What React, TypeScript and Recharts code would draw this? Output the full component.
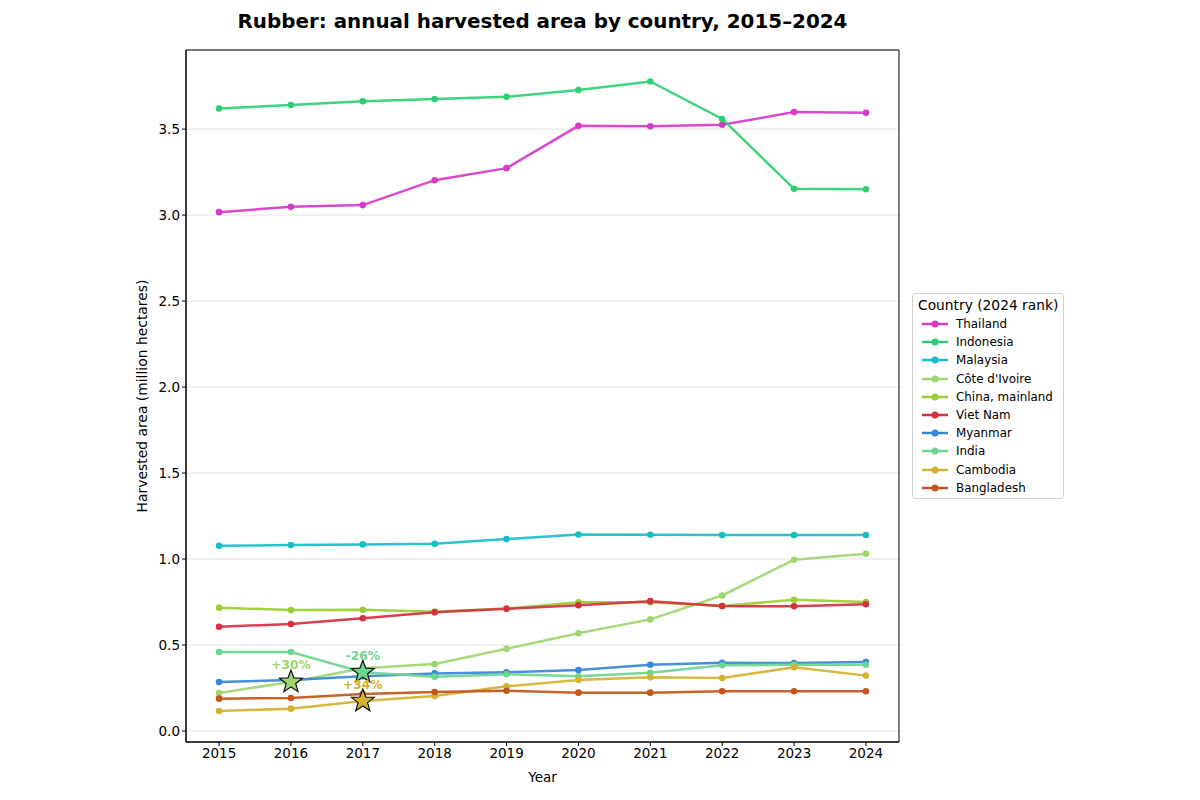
import React from 'react'
import {
  LineChart, Line, XAxis, YAxis, CartesianGrid, ReferenceDot, ReferenceArea,
} from 'recharts'

const years = [2015, 2016, 2017, 2018, 2019, 2020, 2021, 2022, 2023, 2024]

const thailand = [3.017, 3.048, 3.058, 3.203, 3.273, 3.519, 3.517, 3.525, 3.599, 3.595]
const indonesia = [3.620, 3.640, 3.662, 3.675, 3.688, 3.727, 3.777, 3.559, 3.153, 3.150]
const malaysia = [1.077, 1.081, 1.085, 1.089, 1.116, 1.143, 1.141, 1.140, 1.140, 1.140]
const coteDIvoire = [0.221, 0.285, 0.365, 0.390, 0.478, 0.568, 0.649, 0.788, 0.996, 1.030]
const chinaMainland = [0.717, 0.703, 0.705, 0.694, 0.712, 0.748, 0.748, 0.727, 0.763, 0.750]
const vietNam = [0.606, 0.622, 0.656, 0.690, 0.711, 0.731, 0.755, 0.727, 0.725, 0.737]
const myanmar = [0.285, 0.297, 0.318, 0.335, 0.341, 0.355, 0.385, 0.397, 0.395, 0.401]
const india = [0.459, 0.459, 0.342, 0.316, 0.330, 0.318, 0.339, 0.382, 0.385, 0.385]
const cambodia = [0.116, 0.130, 0.174, 0.203, 0.260, 0.297, 0.312, 0.308, 0.370, 0.322]
const bangladesh = [0.188, 0.192, 0.215, 0.227, 0.234, 0.223, 0.223, 0.231, 0.231, 0.231]

// legend order = 2024 rank
const series = [
  { name: 'Thailand', values: thailand, color: '#d63bc8' },
  { name: 'Indonesia', values: indonesia, color: '#2ecf72' },
  { name: 'Malaysia', values: malaysia, color: '#17bec6' },
  { name: "Côte d'Ivoire", values: coteDIvoire, color: '#9dd66e' },
  { name: 'China, mainland', values: chinaMainland, color: '#9acd32' },
  { name: 'Viet Nam', values: vietNam, color: '#d63040' },
  { name: 'Myanmar', values: myanmar, color: '#3886d8' },
  { name: 'India', values: india, color: '#6ad68e' },
  { name: 'Cambodia', values: cambodia, color: '#d4b22f' },
  { name: 'Bangladesh', values: bangladesh, color: '#c4541a' },
]

const yTicks = [0, 0.5, 1.0, 1.5, 2.0, 2.5, 3.0, 3.5]

// big year-over-year jumps marked with a star
const callouts = [
  { year: 2016, country: "Côte d'Ivoire", label: '+30%' },
  { year: 2017, country: 'India', label: '-26%' },
  { year: 2017, country: 'Cambodia', label: '+34%' },
]

const FONT = '"DejaVu Sans", sans-serif'
const TICK_FS = 13.5

const chartData = years.map((year, i) => {
  const row: Record<string, number> = { year }
  for (const s of series) row[s.name] = s.values[i]
  return row
})

function starPoints(cx: number, cy: number, outer: number, inner: number) {
  const pts: string[] = []
  for (let k = 0; k < 10; k++) {
    const r = k % 2 === 0 ? outer : inner
    const a = -Math.PI / 2 + (k * Math.PI) / 5
    pts.push(`${cx + r * Math.cos(a)},${cy + r * Math.sin(a)}`)
  }
  return pts.join(' ')
}

function StarMark(props: any) {
  const { cx, cy, fill } = props
  if (cx == null || cy == null) return null
  return <polygon points={starPoints(cx, cy, 12, 5)} fill={fill} stroke="#111" strokeWidth={1.2} />
}

function StarLabel(props: any) {
  const { cx, cy, fill, label } = props
  if (cx == null || cy == null) return null
  return (
    <text x={cx} y={cy - 12.5} textAnchor="middle" fontFamily={FONT} fontSize={12.2}
      fontWeight="bold" fill={fill}>{label}</text>
  )
}

function LegendBox() {
  return (
    <div style={{
      position: 'absolute', left: 912, top: 293,
      border: '1px solid #d0d0d0', borderRadius: 3, background: '#fff',
      fontFamily: FONT, padding: '2px 5px 1px 8px', width: 137,
    }}>
      <div style={{ fontSize: 13.8, lineHeight: '18px', marginBottom: 1, whiteSpace: 'nowrap', marginLeft: -3 }}>
        Country (2024 rank)
      </div>
      {series.map(s => (
        <div key={s.name} style={{ display: 'flex', alignItems: 'center', height: 18.2, fontSize: 11.9 }}>
          <svg width={28} height={10} style={{ marginRight: 7 }}>
            <line x1={1} y1={5} x2={27} y2={5} stroke={s.color} strokeWidth={2.5} />
            <circle cx={14} cy={5} r={3.5} fill={s.color} />
          </svg>
          <span style={{ whiteSpace: 'nowrap' }}>{s.name}</span>
        </div>
      ))}
    </div>
  )
}

export default function App() {
  return (
    <div style={{ position: 'absolute', left: 0, top: 0, width: 1200, height: 800, background: '#fff' }}>
      <div style={{
        position: 'absolute', left: 186, width: 713, top: 10, textAlign: 'center',
        fontFamily: FONT, fontSize: 19.9, fontWeight: 'bold', whiteSpace: 'nowrap',
      }}>
        Rubber: annual harvested area by country, 2015–2024
      </div>
      <LineChart width={1200} height={800} data={chartData}
        margin={{ top: 50, right: 301, left: 0, bottom: 0 }}>
        <CartesianGrid vertical={false} stroke="#e3e3e3" />
        <XAxis
          dataKey="year" type="number" domain={[2014.54, 2024.46]} ticks={years}
          allowDataOverflow height={58} tickSize={4}
          stroke="#000" tick={{ fontSize: TICK_FS, fill: '#000', fontFamily: FONT }}
          label={{ value: 'Year', position: 'insideBottom', offset: 18, fontSize: TICK_FS, fill: '#000', fontFamily: FONT }}
        />
        <YAxis
          type="number" domain={[-0.064, 3.96]} ticks={yTicks} allowDataOverflow
          width={186} tickSize={4} stroke="#000"
          tickFormatter={(v: number) => v.toFixed(1)}
          tick={{ fontSize: TICK_FS, fill: '#000', fontFamily: FONT }}
          label={(p: any) => {
            const vb = p.viewBox
            const x = 147
            const y = vb.y + vb.height / 2
            return (
              <text x={x} y={y} transform={`rotate(-90 ${x} ${y})`} textAnchor="middle"
                fontSize={13.9} fill="#000" fontFamily={FONT}>Harvested area (million hectares)</text>
            )
          }}
        />
        <ReferenceArea x1={2014.54} x2={2024.46} y1={-0.064} y2={3.96}
          fill="none" stroke="#000" strokeWidth={1} ifOverflow="visible" />
        {series.map(s => (
          <Line
            key={s.name} dataKey={s.name} name={s.name} stroke={s.color} strokeWidth={2.5}
            strokeOpacity={0.92} dot={{ r: 3.3, fill: s.color, stroke: s.color, strokeWidth: 0 }}
            isAnimationActive={false}
          />
        ))}
        {callouts.map(c => {
          const s = series.find(q => q.name === c.country)!
          const v = s.values[years.indexOf(c.year)]
          return (
            <ReferenceDot key={'star' + c.country + c.year} x={c.year} y={v} r={12}
              shape={(p: any) => <StarMark {...p} fill={s.color} />} />
          )
        })}
        {callouts.map(c => {
          const s = series.find(q => q.name === c.country)!
          const v = s.values[years.indexOf(c.year)]
          return (
            <ReferenceDot key={'lbl' + c.country + c.year} x={c.year} y={v} r={1}
              shape={(p: any) => <StarLabel {...p} fill={s.color} label={c.label} />} />
          )
        })}
      </LineChart>
      <LegendBox />
    </div>
  )
}
